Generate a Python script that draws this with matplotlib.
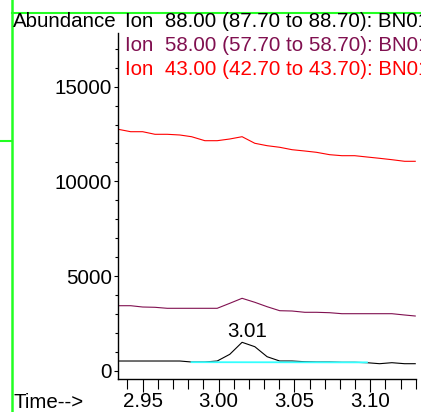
import numpy as np
import matplotlib.pyplot as plt
from matplotlib.lines import Line2D
from matplotlib.ticker import MultipleLocator

plt.rcParams['font.family'] = ['Liberation Sans', 'DejaVu Sans']

# Scan times (min)
time = [2.9339, 2.9421, 2.9500, 2.9581, 2.9662, 2.9745, 2.9822, 2.9910,
        2.9991, 3.0074, 3.0155, 3.0239, 3.0320, 3.0403, 3.0484, 3.0568,
        3.0645, 3.0732, 3.0813, 3.0897, 3.0978, 3.1061, 3.1142, 3.1226,
        3.1296]

# Ion abundances
ion88 = [512, 512, 512, 512, 512, 512, 460, 460, 512, 866, 1500, 1268, 739,
         512, 512, 475, 460, 460, 444, 444, 423, 370, 423, 370, 370]
ion58 = [3433, 3433, 3364, 3349, 3296, 3296, 3296, 3296, 3296, 3560, 3824,
         3613, 3380, 3169, 3153, 3085, 3085, 3063, 3011, 3011, 3011, 3011,
         3011, 2942, 2889]
ion43 = [12750, 12623, 12623, 12486, 12486, 12449, 12359, 12148, 12148,
         12238, 12359, 12011, 11884, 11800, 11673, 11604, 11535, 11409,
         11356, 11356, 11287, 11218, 11145, 11060, 11060]

# Integration baseline under the peak
base_idx = [6, 20]
base_val = [450, 440]
peak_idx = 10
peak_label = "3.01"

labels = ["Ion  88.00 (87.70 to 88.70): BN01.D\\data.ms",
          "Ion  58.00 (57.70 to 58.70): BN01.D\\data.ms",
          "Ion  43.00 (42.70 to 43.70): BN01.D\\data.ms"]
colors = ["black", "#801050", "#ff0000"]

FS = 14.8
W, H = 421, 412
fig = plt.figure(figsize=(W / 100, H / 100), dpi=100)
ax = fig.add_axes([118 / W, 1 - 379 / H, (416 - 118) / W, (379 - 33) / H])

for series, col in zip([ion43, ion58, ion88], colors[::-1]):
    ax.plot(time, series, color=col, lw=0.8)
ax.plot([time[i] for i in base_idx], base_val, color="#33ffff", lw=1.3)
ax.annotate(peak_label, (time[peak_idx], ion88[peak_idx]),
            xytext=(3.5, 4), textcoords='offset points',
            ha='center', va='baseline', fontsize=FS)

ax.set_xlim(2.93375, 3.1301)
ax.set_ylim(-438, 17836)
ax.spines['top'].set_visible(False)
ax.spines['right'].set_visible(False)
ax.spines['left'].set_linewidth(1)
ax.spines['bottom'].set_linewidth(1)
ax.xaxis.set_minor_locator(MultipleLocator(0.01))
ax.yaxis.set_major_locator(MultipleLocator(5000))
ax.yaxis.set_minor_locator(MultipleLocator(1000))
ax.set_xticks([2.95, 3.00, 3.05, 3.10])
ax.set_xticklabels(["2.95", "3.00", "3.05", "3.10"])
ax.tick_params(axis='x', which='major', length=9, width=0.8, pad=0.3, labelsize=FS)
ax.tick_params(axis='x', which='minor', length=7, width=0.8)
ax.tick_params(axis='y', which='major', length=3, width=0.8, pad=1.2, labelsize=FS)
ax.tick_params(axis='y', which='minor', length=2, width=0.8)

# header texts
fig.text(13 / W, 1 - 26.7 / H, "Abundance", fontsize=FS, va='baseline')
for i, (lab, col) in enumerate(zip(labels, colors)):
    fig.text(125 / W, 1 - (26.7 + 24.2 * i) / H, lab, color=col,
             fontsize=FS, va='baseline')
fig.text(13 / W, 1 - 403 / H, "Time-->", fontsize=FS, va='center')

# green frame lines of the screenshot
green = "#22ff22"
fig.add_artist(Line2D([12 / W, 12 / W], [0, 1], color=green, lw=1.8,
                      transform=fig.transFigure))
fig.add_artist(Line2D([12 / W, 1], [1 - 12.5 / H, 1 - 12.5 / H], color=green,
                      lw=1.5, transform=fig.transFigure))
fig.add_artist(Line2D([0, 12 / W], [1 - 140.5 / H, 1 - 140.5 / H], color=green,
                      lw=1.5, transform=fig.transFigure))

fig.savefig("out.png", dpi=100)
